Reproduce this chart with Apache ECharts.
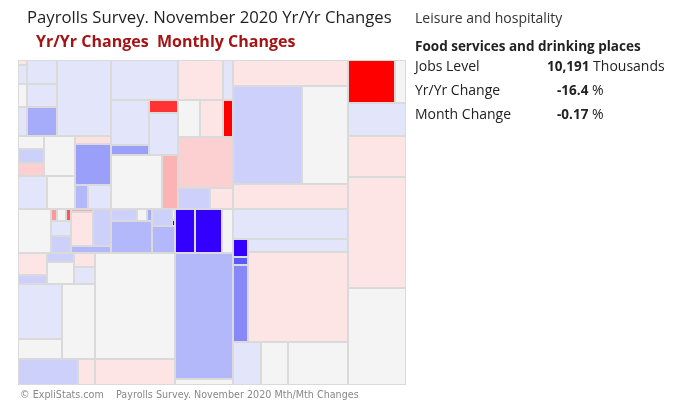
<!DOCTYPE html>
<html>
<head>
<meta charset="utf-8">
<script src="https://cdn.jsdelivr.net/npm/echarts@6/dist/echarts.min.js"></script>
<style>
html,body{margin:0;padding:0;background:#fff;}
#chart{width:680px;height:415px;}
</style>
</head>
<body>
<div id="chart"></div>
<script>
// ---- Data ----
// Cell sizes (relative units, proportional to area) in layout order
const cellValues = [
  45, 171, 207, 261, 720, 690, 870, 4104,
  338, 364, 338, 1240, 957, 924, 288, 1476, 312, 552,
  2680, 1710, 380, 377, 1218, 2754, 864,
  1800, 400, 814, 851, 370, 2805, 672, 483,
  1452, 72, 108, 60, 300, 340, 66, 748, 666, 280, 312, 120, 60, 1312, 340, 33, 18, 621,
  638, 261, 243, 594, 294, 357, 2420, 880, 2475, 1560, 442,
  8480, 2080,
  880, 1188, 484, 7308, 348,
  2990, 6762, 4508, 2875, 3450, 270, 120, 1155, 1300, 9000, 1204, 1161, 2580,
  2021, 473, 1914, 2378, 6438, 5626
];
// Yr/Yr % change per cell (colour value)
const cellChanges = [
  -1, 1, 0, 1, 1, 1, 3.5, 1,
  0, 2, -2, 0, 1, 0, -1.2, 4, 3, 1,
  1, 1, 4, -8, 1, 0, -3,
  -1, 1, 0, -1, -10, -2, 2, -1,
  0, -4, 0, -6, 1, 2, -3.5, -1, 2, 3, 2, 0, 3.5, 3, 2, 0, 8, 3,
  -1, 2, 2, 0, -1, 1, 1, 0, 0, 2, -1,
  0, -1,
  8, 8, 0, 3, 0,
  -1, 2, 0, -1, 1, 8, 6, 5, 1, -1, 1, 0, 0,
  -10, 0, 1, -1, -1, 0
];
// Grouping of the cells (indices into the arrays above)
const groupP1 = [ [0,1,2,3], [4,5,6], 7 ];
const groupP2 = [ [ [ [8,9,10], 11 ], [12,13] ], [14, 15, [16,17]] ];
const groupQ = [ 18, [ [ [19,20], [21,22] ], [23,24] ] ];
const groupL2aR = [ [25,26], [[27,28],29], 30, [31,32] ];
const groupL2bTop = [ 33, [ [ [34,35,36], 37, 38 ], [ [ [39,40], 41 ], 42 ] ], [ [ [43,44,45], 46 ], [ [47, [48,49]], 50 ] ] ];
const groupL2bBottom = [ [ [ [51,52], [53,54], [55,56] ], [ [57,58], 59 ], [60,61] ], [62,63] ];
const groupL2bRight = [ [ [64,65], 66 ], 67, 68 ];
const groupM = [ 69, [70,71], 72, 73, [ [74,75,76], [77,78] ], [79,80,81] ];
const groupR = [ [82,83], 84, 85, 86, 87 ];
const groupTree = [
  [
    [
      [ [ [groupP1, groupP2], groupQ ], groupL2aR ],
      [ [groupL2bTop, groupL2bBottom], groupL2bRight ]
    ],
    groupM
  ],
  groupR
];
const selGroup = 'Leisure and hospitality';
const selName = 'Food services and drinking places';
const selJobs = '10,191';
const selYrYr = '-16.4';
const selMonth = '-0.17';

// ---- colour scale (Yr/Yr change -> colour) ----
const colorStops = [
  [-10,'#ff0000'],[-8,'#ff3333'],[-6,'#ff5555'],[-4,'#ff9999'],[-3,'#fbb4b4'],
  [-2,'#fcd0d0'],[-1,'#fde5e5'],[0,'#f4f4f4'],[1,'#e3e6fb'],[2,'#ccd0fb'],
  [3,'#b3b8fb'],[4,'#9aa0f9'],[5,'#8888f8'],[6,'#5a5afa'],[8,'#3300ff']
];
function hex2rgb(h){return [parseInt(h.slice(1,3),16),parseInt(h.slice(3,5),16),parseInt(h.slice(5,7),16)];}
function colorFor(v){
  if (v <= colorStops[0][0]) return colorStops[0][1];
  for (let i=1;i<colorStops.length;i++){
    if (v <= colorStops[i][0]){
      const a=colorStops[i-1], b=colorStops[i];
      const t=(v-a[0])/(b[0]-a[0]);
      const ca=hex2rgb(a[1]), cb=hex2rgb(b[1]);
      const c=ca.map(function(x,k){return Math.round(x+(cb[k]-x)*t);});
      return 'rgb('+c.join(',')+')';
    }
  }
  return colorStops[colorStops.length-1][1];
}
function build(node){
  if (typeof node === 'number'){
    return {
      name: 'c'+node,
      value: cellValues[node],
      itemStyle: { color: colorFor(cellChanges[node]), borderWidth: 1, borderColor: '#dadada' }
    };
  }
  return { children: node.map(build) };
}

const chart = echarts.init(document.getElementById('chart'), null, {renderer:'canvas'});
const font = '"Open Sans", "Noto Sans", sans-serif';
chart.setOption({
  animation: false,
  series: [{
    type: 'treemap',
    left: 18, top: 60, width: 388, height: 325,
    roam: false, nodeClick: false,
    breadcrumb: { show: false },
    sort: false,
    squareRatio: 1e-9,
    visibleMin: 0,
    label: { show: false },
    upperLabel: { show: false },
    itemStyle: { borderWidth: 0, gapWidth: 0, borderColor: '#dadada' },
    data: groupTree.map(build)
  }],
  graphic: [
    { type:'text', left:27, top:10, style:{ text:'Payrolls Survey. November 2020 Yr/Yr Changes', font:'16.7px '+font, fill:'#222' } },
    { type:'text', left:36, top:34, style:{ text:'Yr/Yr Changes  Monthly Changes', font:'bold 16px '+font, fill:'#a31515' } },
    { type:'text', left:415, top:12, style:{ text:selGroup, font:'14px '+font, fill:'#333' } },
    { type:'text', left:415, top:40, style:{ text:selName, font:'bold 13.5px '+font, fill:'#222' } },
    { type:'text', left:415, top:60, style:{ text:'Jobs Level', font:'14px '+font, fill:'#222' } },
    { type:'text', left:547, top:60, style:{ text:'{b|'+selJobs+'} Thousands', font:'14px '+font, fill:'#222', rich:{ b:{ font:'bold 13.5px '+font, fill:'#222' } } } },
    { type:'text', left:415, top:84, style:{ text:'Yr/Yr Change', font:'14px '+font, fill:'#222' } },
    { type:'text', left:557, top:84, style:{ text:'{b|'+selYrYr+'} %', font:'14px '+font, fill:'#222', rich:{ b:{ font:'bold 13.5px '+font, fill:'#222' } } } },
    { type:'text', left:415, top:108, style:{ text:'Month Change', font:'14px '+font, fill:'#222' } },
    { type:'text', left:557, top:108, style:{ text:'{b|'+selMonth+'} %', font:'14px '+font, fill:'#222', rich:{ b:{ font:'bold 13.5px '+font, fill:'#222' } } } },
    { type:'text', left:20, top:390, style:{ text:'\u00a9 ExpliStats.com', font:'9.6px "DejaVu Sans", sans-serif', fill:'#888' } },
    { type:'text', left:116, top:390, style:{ text:'Payrolls Survey. November 2020 Mth/Mth Changes', font:'9.6px "DejaVu Sans", sans-serif', fill:'#888' } }
  ]
});
</script>
</body>
</html>
